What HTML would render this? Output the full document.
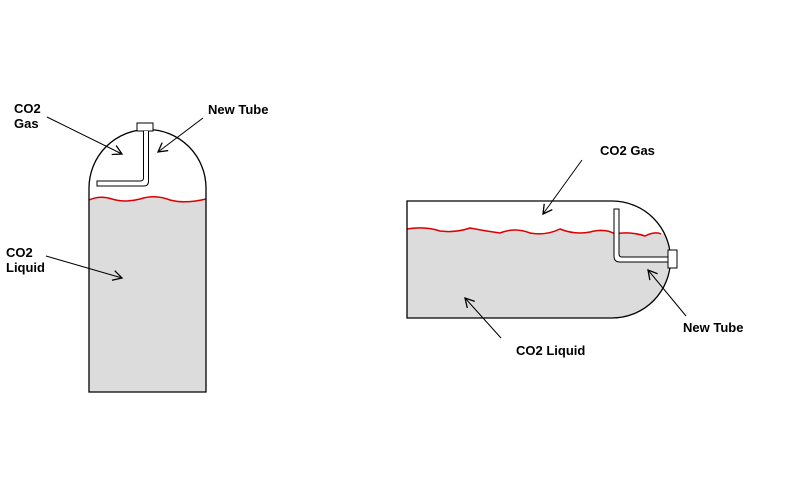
<!DOCTYPE html>
<html><head><style>body{margin:0;background:#fff}svg{display:block}text{font-family:"Liberation Sans",Arial,sans-serif;font-size:13px;font-weight:bold;fill:#000}</style></head><body>
<svg width="800" height="492" viewBox="0 0 800 492" xmlns="http://www.w3.org/2000/svg">
<defs><marker id="a" markerWidth="12" markerHeight="12" refX="10" refY="6" orient="auto" markerUnits="userSpaceOnUse"><path d="M1,1 L10,6 L1,11" fill="none" stroke="#000" stroke-width="1.3"/></marker></defs>
<path d="M89,200 Q100,195 112,199 Q125,203 140,199 Q155,194 170,200 Q185,204 206,199 L206,392 L89,392 Z" fill="#dcdcdc"/>
<path d="M89,200 Q100,195 112,199 Q125,203 140,199 Q155,194 170,200 Q185,204 206,199" fill="none" stroke="#d00" stroke-width="1.5"/>
<path d="M89,392 L89,188 A58.5,58.5 0 0 1 206,188 L206,392 Z" fill="none" stroke="#000" stroke-width="1.3"/>
<rect x="137" y="123" width="16" height="8" fill="#fff" stroke="#000"/>
<path d="M143.5,131 L143.5,178 Q143.5,181 140,181 L97,181 L97,186 L144,186 Q148.5,186 148.5,181 L148.5,131" fill="#fff" stroke="#000"/>
<text x="14" y="113">CO2</text><text x="14" y="128">Gas</text>
<text x="208" y="114">New Tube</text>
<text x="6" y="257">CO2</text><text x="6" y="272">Liquid</text>
<line x1="47" y1="117" x2="122" y2="154" stroke="#000" marker-end="url(#a)"/>
<line x1="203" y1="118" x2="158" y2="152" stroke="#000" marker-end="url(#a)"/>
<line x1="46" y1="256" x2="122" y2="278" stroke="#000" marker-end="url(#a)"/>
<path d="M407,229 Q425,226 440,231 Q455,233 470,228 Q485,231 500,233 Q515,227 530,233 Q545,236 560,229 Q575,235 590,232 Q605,228 615,234 Q630,231 645,236 Q655,231 665,234 A58.5,58.5 0 0 1 612,318 L407,318 Z" fill="#dcdcdc"/>
<path d="M407,229 Q425,226 440,231 Q455,233 470,228 Q485,231 500,233 Q515,227 530,233 Q545,236 560,229 Q575,235 590,232 Q605,228 615,234 Q630,231 645,236 Q655,231 661,234" fill="none" stroke="#d00" stroke-width="1.5"/>
<path d="M407,201 L612,201 A58.5,58.5 0 0 1 612,318 L407,318 Z" fill="none" stroke="#000" stroke-width="1.3"/>
<rect x="668" y="250" width="9" height="18" fill="#fff" stroke="#000"/>
<path d="M614,209 L614,256 Q614,262 620,262 L668,262 L668,257 L622,257 Q619,257 619,254 L619,209 Z" fill="#fff" stroke="#000"/>
<text x="600" y="155">CO2 Gas</text>
<text x="683" y="332">New Tube</text>
<text x="516" y="355">CO2 Liquid</text>
<line x1="582" y1="160" x2="543" y2="214" stroke="#000" marker-end="url(#a)"/>
<line x1="686" y1="316" x2="648" y2="270" stroke="#000" marker-end="url(#a)"/>
<line x1="501" y1="338" x2="465" y2="298" stroke="#000" marker-end="url(#a)"/>
</svg>
</body></html>
